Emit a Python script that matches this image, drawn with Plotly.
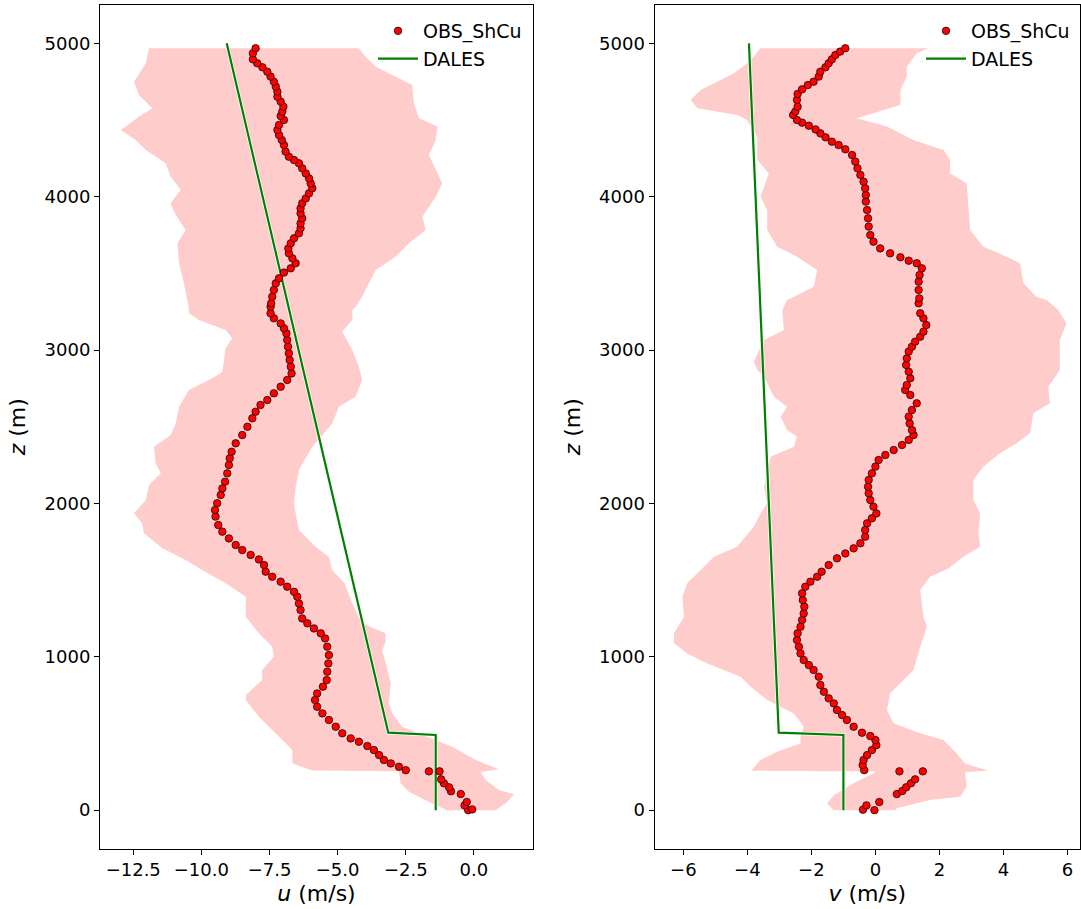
import plotly.graph_objects as go

# ---------------- data ----------------
# OBS_ShCu u-profile
u_obs_z = [0, 5, 31, 53, 105, 123, 149, 175, 201, 253, 253,
           261, 283, 305, 327, 359, 392, 418, 446, 468, 501, 544, 588, 631, 674, 718,
           761, 805, 848, 903, 957, 1011, 1066, 1120, 1153, 1185, 1218, 1250, 1305,
           1348, 1392, 1424, 1457, 1490, 1522, 1555,
           1598, 1635, 1664, 1696, 1729, 1772, 1816, 1859, 1914, 1957, 2001, 2055,
           2098, 2142, 2196, 2250, 2294, 2337, 2392, 2446, 2500, 2555, 2598, 2642,
           2674, 2718, 2761, 2805, 2848, 2892, 2935, 2979, 3022, 3066, 3109, 3142,
           3174, 3207, 3240, 3283,
           3305, 3348, 3392, 3435, 3468, 3505, 3533, 3566, 3598, 3631, 3663, 3696,
           3729, 3761, 3794, 3826, 3859, 3892, 3924, 3957, 3989, 4022, 4055, 4087,
           4120, 4152, 4185, 4218, 4239, 4261, 4294, 4337, 4370, 4402, 4435, 4468,
           4500, 4526, 4555, 4587, 4620, 4652, 4685, 4718, 4750, 4783, 4815, 4844,
           4870, 4896, 4935, 4968]
u_obs = [-0.21, -0.06, -0.34, -0.26, -0.48, -0.84, -0.91, -1.10, -1.20, -1.26, -1.65,
         -2.50, -2.75, -3.05, -3.30, -3.48, -3.67, -3.91, -4.22, -4.52, -4.83, -5.07, -5.32, -5.56, -5.75, -5.83,
         -5.75, -5.54, -5.40, -5.38, -5.34, -5.32, -5.38, -5.46, -5.62, -5.87, -6.11, -6.30, -6.36,
         -6.42, -6.48, -6.60, -6.85, -7.09, -7.40, -7.64,
         -7.70, -7.89, -8.19, -8.50, -8.74, -8.99, -9.23, -9.38, -9.48, -9.50, -9.42, -9.29,
         -9.23, -9.13, -9.05, -8.99, -8.96, -8.89, -8.74, -8.50, -8.31, -8.13, -8.01, -7.83,
         -7.58, -7.34, -7.09, -6.85, -6.69, -6.72, -6.76, -6.79, -6.82, -6.85, -6.88, -6.97,
         -7.09, -7.34, -7.46, -7.46,
         -7.44, -7.40, -7.34, -7.27, -7.15, -6.97, -6.72, -6.54, -6.66, -6.79, -6.81, -6.72,
         -6.60, -6.42, -6.36, -6.36, -6.30, -6.36, -6.36, -6.30, -6.17, -6.05, -5.93, -5.99,
         -6.05, -6.17, -6.30, -6.42, -6.60, -6.79, -6.91, -6.97, -7.05, -7.15, -7.21, -7.15,
         -6.97, -7.09, -7.03, -6.99, -7.09, -7.21, -7.21, -7.27, -7.34, -7.46, -7.58, -7.76,
         -7.95, -8.11, -8.11, -8.01]

# OBS_ShCu v-profile
v_obs_z = [0, 3, 31, 53, 105, 125, 149, 175, 201, 253, 253,
           261, 294, 327, 359, 392, 424, 457, 483, 505, 544, 588, 620, 653, 696, 729,
           772, 816, 870, 914, 946, 979, 1022, 1066, 1109, 1153, 1196, 1240, 1283,
           1327, 1370, 1414, 1457, 1490, 1522,
           1555, 1598, 1642, 1674, 1707, 1740, 1783, 1827, 1870, 1903, 1935, 1979,
           2022, 2066, 2109, 2153, 2196, 2240, 2283, 2316, 2348, 2381, 2414, 2446,
           2479, 2522, 2566, 2609, 2653, 2707, 2740, 2772, 2816, 2859, 2903, 2946,
           2990, 3022, 3055, 3087, 3120, 3163, 3207, 3240, 3305,
           3337, 3392, 3446, 3489, 3533, 3566, 3583, 3605, 3631, 3663, 3707, 3750,
           3805, 3859, 3913, 3968, 4011, 4055, 4098, 4142, 4185, 4229, 4272, 4309,
           4337, 4359, 4387, 4413, 4439, 4463, 4483, 4500, 4533, 4555, 4587, 4631,
           4670, 4700, 4728, 4750, 4783, 4815, 4844, 4870, 4896, 4924, 4946, 4968]
v_obs = [-0.03, -0.39, -0.28, 0.12, 0.67, 0.84, 0.96, 1.11, 1.24, 0.75, 1.48,
         -0.35, -0.40, -0.37, -0.26, -0.11, 0.03, 0.00, -0.16, -0.42, -0.68, -0.89, -1.04, -1.20, -1.30, -1.46,
         -1.61, -1.72, -1.77, -1.93, -2.08, -2.24, -2.34, -2.39, -2.45, -2.43, -2.34, -2.29, -2.24,
         -2.22, -2.27, -2.29, -2.19, -2.03, -1.82,
         -1.68, -1.46, -1.20, -0.94, -0.68, -0.47, -0.32, -0.32, -0.26, -0.11, 0.03, -0.06,
         -0.16, -0.21, -0.23, -0.21, -0.11, 0.00, 0.10, 0.31, 0.57, 0.83, 1.04, 1.19,
         1.14, 1.07, 1.04, 1.14, 1.29, 1.09, 0.93, 0.98, 1.09, 1.04, 0.96, 0.98,
         1.04, 1.14, 1.24, 1.40, 1.50, 1.59, 1.50, 1.40, 1.35,
         1.37, 1.35, 1.35, 1.38, 1.45, 1.29, 1.04, 0.78, 0.46, 0.15, -0.06, -0.16,
         -0.21, -0.23, -0.26, -0.30, -0.30, -0.32, -0.37, -0.47, -0.56, -0.63, -0.73, -0.94,
         -1.15, -1.36, -1.56, -1.72, -1.87, -2.08, -2.29, -2.45, -2.57, -2.50, -2.43, -2.45,
         -2.43, -2.29, -2.11, -1.93, -1.77, -1.72, -1.56, -1.46, -1.36, -1.25, -1.10, -0.94]

# spread band of u (lower and upper bounds)
u_lo_z = [0, 5, 44, 120, 175, 253, 258, 305, 392, 501, 609, 718, 751, 848, 914, 1000,
          1066, 1153, 1261, 1392, 1479, 1566, 1631, 1707, 1805, 1870, 1935, 2022, 2120,
          2196, 2261, 2370, 2446, 2522, 2631, 2740, 2816, 2859, 3011, 3077, 3131, 3196,
          3240, 3283, 3326, 3435, 3566, 3696, 3783, 3881, 3957, 4044, 4131, 4218, 4305,
          4370, 4435, 4522, 4576, 4663, 4750, 4870, 4968]
u_lo = [-1.04, -1.04, -1.53, -2.38, -2.69, -2.75, -5.93, -6.66, -6.66, -7.27, -7.89, -8.37, -8.37, -7.77, -7.77, -7.34,
        -7.40, -7.89, -8.37, -8.37, -9.11, -9.97, -10.58, -11.43, -12.11, -12.17, -12.47, -12.04, -11.92,
        -11.49, -11.68, -11.74, -11.13, -10.94, -10.82, -10.46, -9.60, -9.23, -9.11, -8.87, -9.11, -10.09,
        -10.46, -10.46, -10.52, -10.64, -10.82, -10.88, -10.58, -10.94, -11.13, -10.76, -11.13, -11.31, -12.04,
        -12.41, -12.96, -12.29, -11.80, -12.29, -12.47, -12.04, -11.92]
u_hi_z = [0, 5, 55, 105, 131, 196, 248, 266, 327, 413, 501, 544, 631, 696, 827, 957, 1044,
          1098, 1153, 1218, 1349, 1479, 1566, 1652, 1718, 1827, 1935, 2001, 2109, 2218, 2370,
          2522, 2631, 2696, 2805, 2891, 3000, 3120, 3196, 3261, 3283, 3348, 3435, 3522, 3609,
          3696, 3783, 3870, 4000, 4087, 4174, 4272, 4370, 4457, 4511, 4609, 4728, 4848, 4913, 4968]
u_hi = [0.80, 0.80, 1.23, 1.47, 0.92, 0.43, 0.25, 0.92, 0.07, -0.79, -2.01, -2.63, -2.99, -3.12, -3.05, -3.24, -3.36,
        -3.24, -3.24, -4.10, -4.46, -4.75, -5.20, -5.32, -5.81, -6.42, -6.54, -6.60, -6.54, -6.42, -5.93,
        -5.20, -4.95, -4.34, -4.10, -4.22, -4.46, -4.83, -4.46, -4.46, -4.34, -4.10, -3.85, -3.60, -2.87,
        -2.38, -1.77, -1.89, -1.40, -1.16, -1.40, -1.65, -1.40, -1.34, -2.01, -2.20, -2.26, -3.60, -3.97, -4.22]

# spread band of v
v_lo_z = [0, 44, 98, 175, 240, 252, 257, 327, 381, 436, 479, 544, 631, 718, 805, 870, 957,
          1022, 1088, 1153, 1261, 1392, 1479, 1560, 1652, 1718, 1848, 1935, 2001, 2109, 2174,
          2305, 2370, 2435, 2479, 2565, 2631, 2696, 2826, 2870, 2924, 3066, 3131, 3261, 3283,
          3326, 3348, 3413, 3522, 3609, 3674, 3783, 3913, 4000, 4153, 4239, 4391, 4457, 4500,
          4533, 4576, 4631, 4696, 4805, 4870, 4913, 4968]
v_lo = [-1.30, -1.51, -1.30, -0.68, -0.06, 0.00, -3.88, -3.59, -3.07, -2.34, -2.34, -2.24, -2.55, -3.38, -3.90, -4.21, -5.25,
        -5.88, -6.29, -6.29, -5.98, -6.03, -5.88, -5.50, -5.04, -4.32, -3.80, -3.59, -3.38, -3.48, -3.38,
        -3.28, -2.55, -2.45, -2.76, -2.96, -2.76, -3.17, -3.48, -3.69, -3.80, -3.48, -2.86, -2.91, -2.86,
        -2.76, -2.55, -1.93, -1.82, -2.45, -3.07, -3.38, -3.38, -3.59, -3.33, -3.69, -3.69, -3.90, -4.01,
        -4.32, -5.56, -5.77, -5.46, -4.42, -4.01, -3.80, -3.59]
v_hi_z = [0, 12, 66, 87, 153, 249, 257, 305, 370, 457, 501, 566, 653, 762, 827, 914, 1066,
          1196, 1261, 1435, 1522, 1575, 1652, 1718, 1805, 1935, 2022, 2153, 2239, 2327, 2392,
          2457, 2588, 2653, 2761, 2870, 3066, 3174, 3261, 3326, 3348, 3435, 3566, 3609, 3674,
          3783, 3935, 4087, 4153, 4239, 4305, 4370, 4457, 4511, 4598, 4696, 4783, 4848, 4935, 4968]
v_hi = [0.62, 0.67, 1.71, 2.65, 2.85, 2.80, 3.53, 2.80, 2.54, 2.13, 1.40, 0.57, 0.36, 0.46, 0.78, 1.19, 1.40,
        1.61, 1.50, 1.40, 1.71, 2.28, 2.75, 3.27, 3.22, 3.27, 3.06, 3.06, 3.37, 3.89, 4.41,
        4.83, 4.93, 5.45, 5.40, 5.76, 5.76, 5.97, 5.71, 5.35, 5.03, 4.62, 4.52, 4.10, 3.37,
        2.96, 2.91, 2.85, 2.33, 2.33, 2.13, 1.19, 0.36, -0.58, 0.78, 0.78, 0.98, 0.98, 1.29, 1.66]

# DALES initial profiles
dales_z = [0, 490, 505, 5000]
dales_u = [-1.40, -1.40, -3.14, -9.07]
dales_v = [-1.00, -1.00, -3.02, -3.95]

# tick labels
u_ticks = [-12.5, -10.0, -7.5, -5.0, -2.5, 0.0]
u_ticktext = ["\u221212.5", "\u221210.0", "\u22127.5", "\u22125.0", "\u22122.5", "0.0"]
v_ticks = [-6, -4, -2, 0, 2, 4, 6]
v_ticktext = ["\u22126", "\u22124", "\u22122", "0", "2", "4", "6"]
z_ticks = [0, 1000, 2000, 3000, 4000, 5000]

# ---------------- figure ----------------
W, H = 1081, 909
FONT = "DejaVu Sans"
RED_BAND = "rgba(255,0,0,0.2)"
GREEN = "#008000"

fig = go.Figure()


def add_panel(xa, ya, lo_z, lo, hi_z, hi, dales_x, obs_x, obs_z, legend):
    band_x = list(lo) + list(reversed(hi))
    band_z = list(lo_z) + list(reversed(hi_z))
    fig.add_trace(go.Scatter(x=band_x, y=band_z, mode="lines", fill="toself",
                             fillcolor=RED_BAND, line=dict(width=0), hoverinfo="skip",
                             showlegend=False, xaxis=xa, yaxis=ya))
    fig.add_trace(go.Scatter(x=dales_x, y=dales_z, mode="lines",
                             line=dict(color="white", width=3.6), showlegend=False,
                             hoverinfo="skip", xaxis=xa, yaxis=ya))
    fig.add_trace(go.Scatter(x=dales_x, y=dales_z, mode="lines", name="DALES",
                             line=dict(color=GREEN, width=2.2), legend=legend,
                             legendrank=2, xaxis=xa, yaxis=ya))
    fig.add_trace(go.Scatter(x=obs_x, y=obs_z, mode="markers", name="OBS_ShCu",
                             marker=dict(color="red", size=7.5,
                                         line=dict(color="black", width=0.7)),
                             legend=legend, legendrank=1, xaxis=xa, yaxis=ya))


add_panel("x", "y", u_lo_z, u_lo, u_hi_z, u_hi, dales_u, u_obs, u_obs_z, "legend")
add_panel("x2", "y2", v_lo_z, v_lo, v_hi_z, v_hi, dales_v, v_obs, v_obs_z, "legend2")

axis_common = dict(showline=True, mirror=True, linecolor="black", linewidth=1,
                   ticks="outside", ticklen=5, tickwidth=1, tickcolor="black",
                   showgrid=False, zeroline=False,
                   tickfont=dict(family=FONT, size=18, color="black"),
                   automargin=False)

top_px, bot_px = 5, 848.5
ydom = [1 - bot_px / H, 1 - top_px / H]

fig.update_layout(
    width=W, height=H, autosize=False,
    margin=dict(l=0, r=0, t=0, b=0),
    paper_bgcolor="white", plot_bgcolor="white",
    font=dict(family=FONT, color="black"),
    xaxis=dict(domain=[100 / W, 533 / W], range=[-13.72, 2.17],
               tickvals=u_ticks, ticktext=u_ticktext,
               title=dict(text="<i>u</i> (m/s)", font=dict(family=FONT, size=22), standoff=6),
               **axis_common),
    yaxis=dict(domain=ydom, range=[-250, 5250], tickvals=z_ticks,
               title=dict(text="<i>z</i> (m)", font=dict(family=FONT, size=22), standoff=12),
               **axis_common),
    xaxis2=dict(domain=[654.5 / W, 1080 / W], range=[-6.90, 6.39], anchor="y2",
                tickvals=v_ticks, ticktext=v_ticktext,
                title=dict(text="<i>v</i> (m/s)", font=dict(family=FONT, size=22), standoff=6),
                **axis_common),
    yaxis2=dict(domain=ydom, range=[-250, 5250], tickvals=z_ticks, anchor="x2",
                title=dict(text="<i>z</i> (m)", font=dict(family=FONT, size=22), standoff=12),
                **axis_common),
    legend=dict(x=527 / W, xanchor="right", y=1 - 12 / H, yanchor="top",
                bgcolor="rgba(0,0,0,0)", font=dict(family=FONT, size=19),
                traceorder="normal", tracegroupgap=0, itemwidth=40),
    legend2=dict(x=1075 / W, xanchor="right", y=1 - 12 / H, yanchor="top",
                 bgcolor="rgba(0,0,0,0)", font=dict(family=FONT, size=19),
                 traceorder="normal", tracegroupgap=0, itemwidth=40),
)

fig.write_html("out.html")
